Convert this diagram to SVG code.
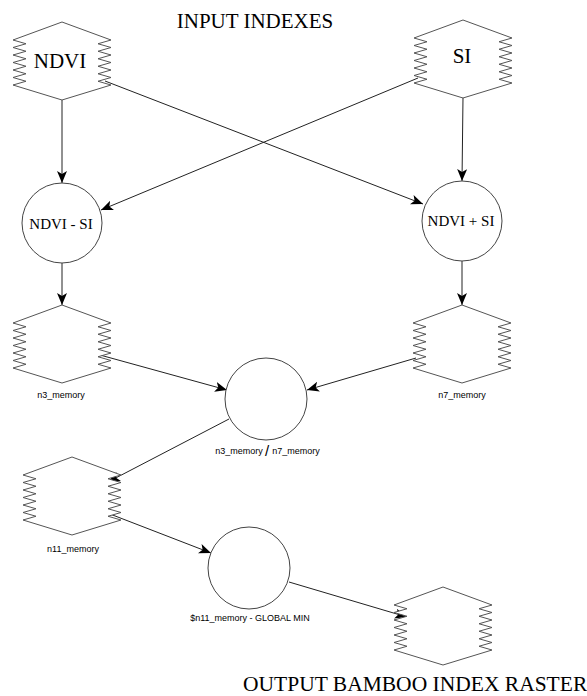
<svg xmlns="http://www.w3.org/2000/svg" xmlns:xlink="http://www.w3.org/1999/xlink" width="587" height="696" viewBox="0 0 587 696">
<style>
.raster{fill:#fff;stroke:#555;stroke-width:1}
.op{fill:#fff;stroke:#444;stroke-width:1}
.conn{stroke:#222;stroke-width:1;fill:none;marker-end:url(#arr)}
.big{font-family:"Liberation Serif","Times New Roman",serif;fill:#000}
.small{font-family:"Liberation Sans",Arial,sans-serif;font-size:9px;fill:#000;text-anchor:middle}
</style>
<defs>
<marker id="arr" markerUnits="userSpaceOnUse" markerWidth="14" markerHeight="12" refX="12" refY="5" orient="auto">
<path d="M0,0 L12,5 L0,10 L3,5 Z" fill="#000"/>
</marker>
<path id="rast" class="raster" d="M0,0 L49,18 L36,21.75 L49,25.5 L36,29.25 L49,33 L36,36.75 L49,40.5 L36,44.25 L49,48 L36,51.75 L49,55.5 L36,59.25 L49,63 L0,78 L-49,63 L-36,59.25 L-49,55.5 L-36,51.75 L-49,48 L-36,44.25 L-49,40.5 L-36,36.75 L-49,33 L-36,29.25 L-49,25.5 L-36,21.75 L-49,18 Z"/>
</defs>
<rect width="587" height="696" fill="#fff"/>
<text class="big" x="255" y="28" font-size="21" text-anchor="middle">INPUT INDEXES</text>
<g id="connectors">
<line class="conn" x1="62" y1="100" x2="62" y2="183"/>
<line class="conn" x1="463" y1="97" x2="462" y2="181"/>
<line class="conn" x1="105" y1="81" x2="423" y2="204"/>
<line class="conn" x1="418" y1="78" x2="101" y2="210"/>
<line class="conn" x1="62" y1="263" x2="62" y2="305"/>
<line class="conn" x1="462" y1="261" x2="462" y2="305"/>
<line class="conn" x1="100" y1="355" x2="227" y2="390"/>
<line class="conn" x1="416" y1="358" x2="307" y2="390"/>
<line class="conn" x1="229" y1="419" x2="108" y2="482"/>
<line class="conn" x1="110" y1="514" x2="211" y2="553"/>
<line class="conn" x1="289" y1="582" x2="407" y2="617"/>
</g>
<g id="ndvi">
<use xlink:href="#rast" x="62" y="22"/>
<text class="big" x="60" y="68" font-size="21" text-anchor="middle">NDVI</text>
</g>
<g id="si">
<use xlink:href="#rast" x="463" y="20"/>
<text class="big" x="462" y="63" font-size="21" text-anchor="middle">SI</text>
</g>
<g id="ndvi_minus_si">
<circle class="op" cx="62" cy="223" r="40"/>
<text class="big" x="61" y="229" font-size="15" text-anchor="middle">NDVI - SI</text>
</g>
<g id="ndvi_plus_si">
<circle class="op" cx="462" cy="221" r="40"/>
<text class="big" x="461" y="226" font-size="15" text-anchor="middle">NDVI + SI</text>
</g>
<g id="n3_memory">
<use xlink:href="#rast" x="62" y="305"/>
<text class="small" x="61" y="398">n3_memory</text>
</g>
<g id="n7_memory">
<use xlink:href="#rast" x="462" y="305"/>
<text class="small" x="462" y="398">n7_memory</text>
</g>
<g id="divide">
<circle class="op" cx="266" cy="399" r="41"/>
<text class="small" x="239" y="454">n3_memory</text>
<text x="267" y="456" font-family="Liberation Sans,Arial,sans-serif" font-size="15" text-anchor="middle">/</text>
<text class="small" x="296" y="454">n7_memory</text>
</g>
<g id="n11_memory">
<use xlink:href="#rast" x="72" y="457"/>
<text class="small" x="73" y="552">n11_memory</text>
</g>
<g id="global_min">
<circle class="op" cx="249" cy="568" r="41"/>
<text class="small" x="250" y="621">$n11_memory - GLOBAL MIN</text>
</g>
<g id="output">
<use xlink:href="#rast" x="443" y="587"/>
<text class="big" x="243" y="691" font-size="21.5">OUTPUT BAMBOO INDEX RASTER</text>
</g>
</svg>
